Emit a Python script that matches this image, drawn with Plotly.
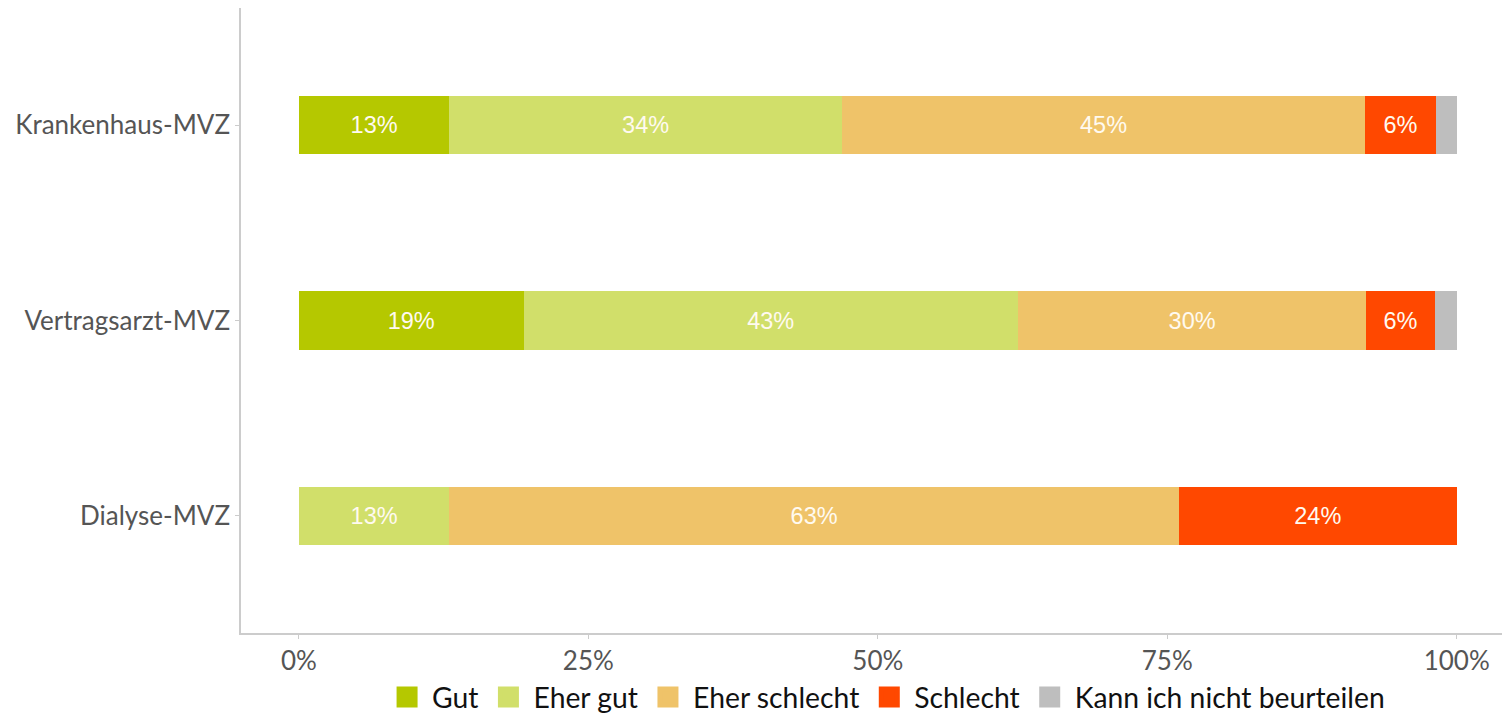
import plotly.graph_objects as go

categories = ["Dialyse-MVZ", "Vertragsarzt-MVZ", "Krankenhaus-MVZ"]
series_names = ["Gut", "Eher gut", "Eher schlecht", "Schlecht", "Kann ich nicht beurteilen"]
gut = [0.0, 19.4, 13.0]
eher_gut = [13.0, 42.7, 33.9]
eher_schlecht = [63.0, 30.1, 45.2]
schlecht = [24.0, 5.9, 6.1]
kann_nicht = [0.0, 1.9, 1.8]
colors = ["#b5c800", "#d1df6a", "#efc369", "#ff4800", "#bebebe"]
tick_vals = [0, 0.25, 0.5, 0.75, 1.0]
tick_text = ["0%", "25%", "50%", "75%", "100%"]

series_values = [gut, eher_gut, eher_schlecht, schlecht, kann_nicht]

fig = go.Figure()
for name, vals, col in zip(series_names, series_values, colors):
    texts = [f"{round(v)}%" if v >= 4 else "" for v in vals]
    fig.add_trace(go.Bar(
        y=categories,
        x=[v / 100 for v in vals],
        name=name,
        orientation="h",
        marker=dict(color=col, line=dict(width=0)),
        width=0.3,
        text=texts,
        textposition="inside",
        insidetextanchor="middle",
        textangle=0,
        textfont=dict(family="Liberation Sans, Arial, sans-serif", size=23.5, color="#fffaf0"),
        hoverinfo="skip",
        showlegend=False,
    ))

# legend-only entries with larger square swatches
for name, col in zip(series_names, colors):
    fig.add_trace(go.Scatter(
        x=[None], y=[None],
        mode="markers",
        name=name,
        marker=dict(symbol="square", size=16, color=col, line=dict(color=col, width=5)),
        showlegend=True,
        hoverinfo="skip",
    ))

# page body has an 8px default margin, so the figure is 8px smaller and margins compensate
fig.update_layout(
    barmode="stack",
    width=1502,
    height=705,
    margin=dict(l=233, r=0, t=0, b=80),
    plot_bgcolor="white",
    paper_bgcolor="white",
    xaxis=dict(
        range=[-0.05, 1.046],
        tickvals=tick_vals,
        ticktext=tick_text,
        showgrid=False,
        zeroline=False,
        showline=True,
        linecolor="#cccccc",
        linewidth=1.5,
        ticks="outside",
        ticklen=4,
        tickcolor="#cccccc",
        automargin=False,
        tickfont=dict(family="Lato, Open Sans, sans-serif", size=26, color="#555555"),
    ),
    yaxis=dict(
        range=[-0.6, 2.6],
        showgrid=False,
        zeroline=False,
        showline=True,
        linecolor="#cccccc",
        linewidth=1.5,
        ticks="outside",
        ticklen=4,
        tickcolor="#cccccc",
        automargin=False,
        tickfont=dict(family="Lato, Open Sans, sans-serif", size=26, color="#555555"),
    ),
    legend=dict(
        orientation="h",
        xref="container",
        yref="container",
        x=0.5846,
        xanchor="center",
        y=0.0227,
        yanchor="middle",
        font=dict(family="Lato, Open Sans, sans-serif", size=28.3, color="#111111"),
        traceorder="normal",
        itemwidth=40,
        itemsizing="trace",
    ),
)

fig.write_html("out.html")
